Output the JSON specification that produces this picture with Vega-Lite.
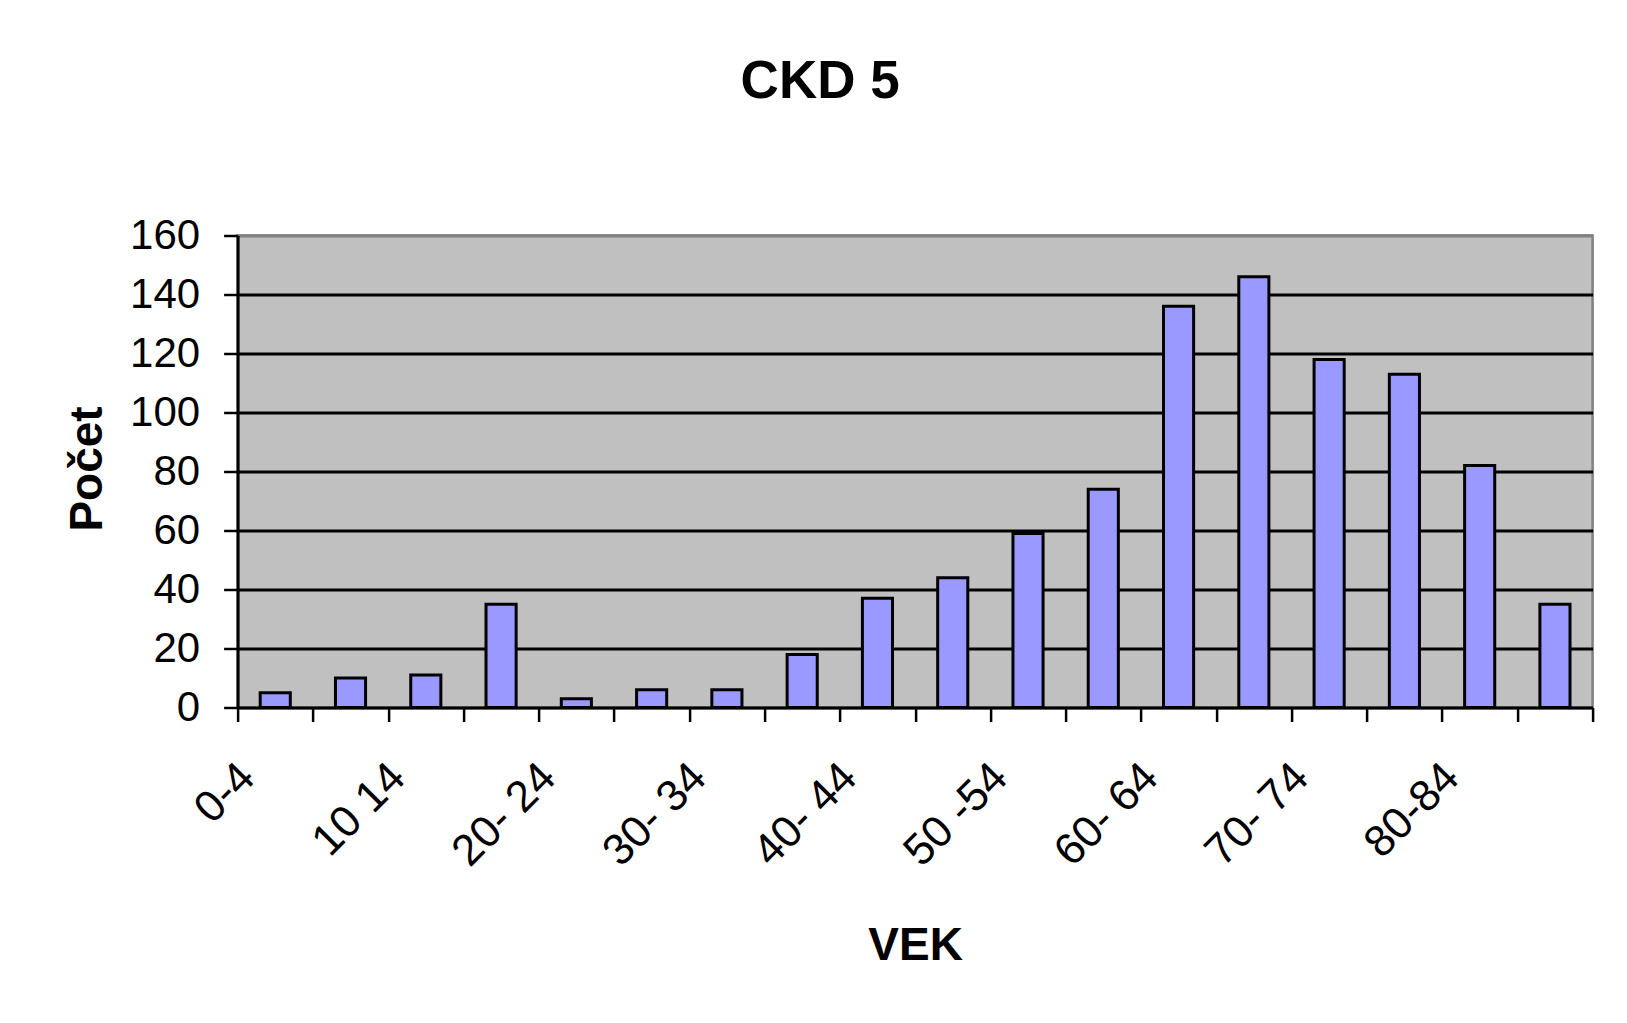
{
  "$schema": "https://vega.github.io/schema/vega-lite/v6.json",
  "autosize": {"type": "none"},
  "width": 1355,
  "height": 472,
  "padding": {"left": 237.6, "top": 235.5, "right": 34.4, "bottom": 315.4},
  "background": "white",
  "title": {
    "text": "CKD 5",
    "font": "Liberation Sans",
    "fontSize": 53,
    "fontWeight": "bold",
    "color": "black",
    "anchor": "middle",
    "frame": "group",
    "baseline": "alphabetic",
    "dx": -95,
    "offset": 63
  },
  "data": {
    "values": [
      {"vek": "0-4", "pocet": 5},
      {"vek": "5-9", "pocet": 10},
      {"vek": "10 14", "pocet": 11},
      {"vek": "15-19", "pocet": 35},
      {"vek": "20- 24", "pocet": 3},
      {"vek": "25-29", "pocet": 6},
      {"vek": "30- 34", "pocet": 6},
      {"vek": "35-39", "pocet": 18},
      {"vek": "40- 44", "pocet": 37},
      {"vek": "45-49", "pocet": 44},
      {"vek": "50 -54", "pocet": 59},
      {"vek": "55-59", "pocet": 74},
      {"vek": "60- 64", "pocet": 136},
      {"vek": "65-69", "pocet": 146},
      {"vek": "70- 74", "pocet": 118},
      {"vek": "75-79", "pocet": 113},
      {"vek": "80-84", "pocet": 82},
      {"vek": "85+", "pocet": 35}
    ]
  },
  "mark": {"type": "bar", "fill": "#9999FF", "stroke": "black", "strokeWidth": 3, "width": {"band": 0.4}},
  "encoding": {
    "x": {
      "field": "vek",
      "type": "nominal",
      "sort": null,
      "scale": {"paddingInner": 0, "paddingOuter": 0},
      "axis": {
        "title": "VEK",
        "titleFont": "Liberation Sans",
        "titleFontSize": 46,
        "titleFontWeight": "bold",
        "titleColor": "black",
        "titleBaseline": "alphabetic",
        "titleY": 252,
        "labelExpr": "indexof(['0-4','10 14','20- 24','30- 34','40- 44','50 -54','60- 64','70- 74','80-84'], datum.value) >= 0 ? datum.value : ''",
        "labelAngle": -45,
        "labelAlign": "right",
        "labelBaseline": "middle",
        "labelOffset": -28,
        "labelPadding": 49,
        "labelFont": "Liberation Sans",
        "labelFontSize": 44,
        "labelColor": "black",
        "labelOverlap": false,
        "labelBound": false,
        "tickBand": "extent",
        "tickSize": 14,
        "tickWidth": 2.5,
        "tickColor": "black",
        "domainColor": "black",
        "domainWidth": 3,
        "grid": false
      }
    },
    "y": {
      "field": "pocet",
      "type": "quantitative",
      "scale": {"domain": [0, 160], "nice": false},
      "axis": {
        "title": "Počet",
        "titleFont": "Liberation Sans",
        "titleFontSize": 46,
        "titleFontWeight": "bold",
        "titleColor": "black",
        "titleAngle": -90,
        "titleAlign": "center",
        "titleBaseline": "middle",
        "titleX": -150,
        "titleY": 233,
        "values": [0, 20, 40, 60, 80, 100, 120, 140, 160],
        "labelFont": "Liberation Sans",
        "labelFontSize": 42,
        "labelColor": "black",
        "labelPadding": 24,
        "labelOverlap": false,
        "labelBound": false,
        "tickSize": 14,
        "tickWidth": 2.5,
        "tickColor": "black",
        "domainColor": "black",
        "domainWidth": 3,
        "grid": true,
        "gridColor": {"condition": {"test": "datum.value == 160 || datum.value == 0", "value": "#808080"}, "value": "black"},
        "gridWidth": 3,
        "gridOpacity": 1
      }
    }
  },
  "config": {
    "view": {"fill": "#C0C0C0", "stroke": "#808080", "strokeWidth": 2.5}
  }
}
